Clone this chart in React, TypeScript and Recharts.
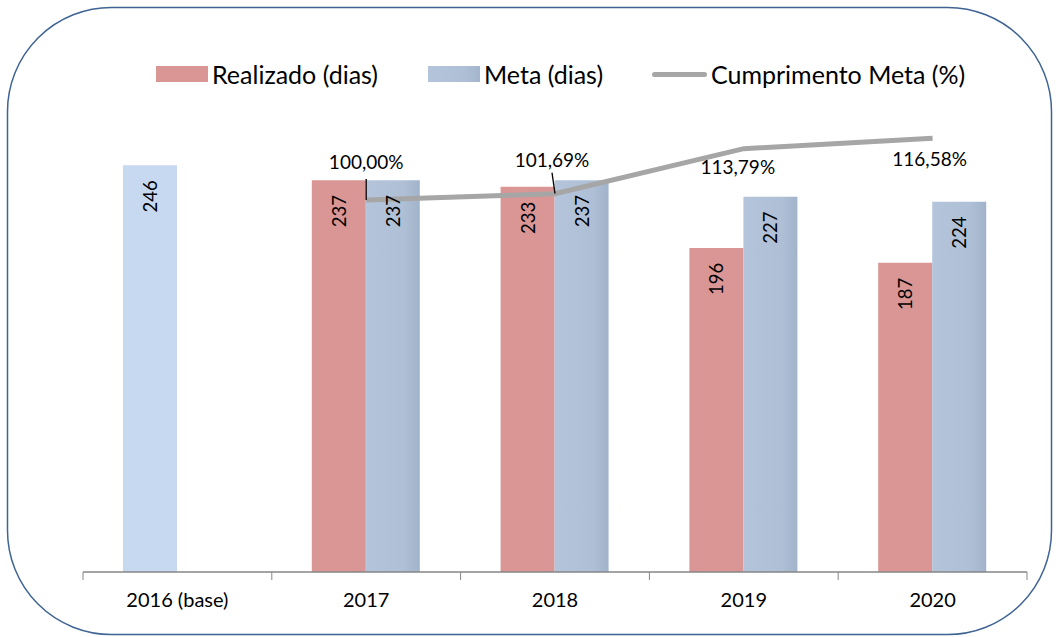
import { ComposedChart, Bar, Line, XAxis, YAxis, Legend, Cell, LabelList } from 'recharts';

const categories = ['2016 (base)', '2017', '2018', '2019', '2020'];
const realizado = [246, 237, 233, 196, 187];
const meta = [null, 237, 237, 227, 224];
const cumprimento = [null, 100.0, 101.69, 113.79, 116.58];

const data = categories.map((ano, i) => ({
  ano,
  realizado: realizado[i],
  meta: meta[i],
  cumprimento: cumprimento[i],
}));

const FONT = 'Lato, "Open Sans", sans-serif';
const RED = '#d99694';
const BASE_BLUE = '#c6d9f1';
const LINE_GRAY = '#a6a6a6';

// where each % label sits relative to its point (Excel placed them by hand)
const pctLabelPos = [
  null,
  { dx: 0, dy: -38, leader: true },
  { dx: -3, dy: -34, leader: true },
  { dx: -6, dy: 18, leader: false },
  { dx: -3, dy: 20, leader: false },
];

const BarValue = (props: any) => {
  const { x, y, width, value } = props;
  if (value == null) return null;
  const cx = x + width / 2;
  const cy = y + 31;
  return (
    <text
      x={cx}
      y={cy}
      transform={`rotate(-90 ${cx} ${cy})`}
      textAnchor="middle"
      dominantBaseline="central"
      fontFamily={FONT}
      fontSize={18.5}
      fill="#000"
    >
      {value}
    </text>
  );
};

const PctLabel = (props: any) => {
  const { x, y, value, index } = props;
  const pos = pctLabelPos[index];
  if (value == null || !pos) return null;
  const txt = value.toFixed(2).replace('.', ',') + '%';
  return (
    <g>
      {pos.leader && (
        <line x1={x + pos.dx} y1={y - 21} x2={x} y2={y} stroke="#000" strokeWidth={1.3} />
      )}
      <text
        x={x + pos.dx}
        y={y + pos.dy}
        textAnchor="middle"
        dominantBaseline="central"
        fontFamily={FONT}
        fontSize={19}
        fill="#000"
      >
        {txt}
      </text>
    </g>
  );
};

const AxisTick = (props: any) => {
  const { x, y, payload, index, visibleTicksCount } = props;
  const half = payload.offset > 0 ? payload.offset : 94.4;
  const last = index === visibleTicksCount - 1;
  return (
    <g>
      <line x1={x - half} y1={y - 8} x2={x - half} y2={y} stroke="#868686" />
      {last && <line x1={x + half} y1={y - 8} x2={x + half} y2={y} stroke="#868686" />}
      <text
        x={x}
        y={y + 19}
        textAnchor="middle"
        dominantBaseline="central"
        fontFamily={FONT}
        fontSize={20}
        fill="#000"
      >
        {payload.value}
      </text>
    </g>
  );
};

const legendItems = [
  { label: 'Realizado (dias)', left: 156, kind: 'red' },
  { label: 'Meta (dias)', left: 428, kind: 'meta' },
  { label: 'Cumprimento Meta (%)', left: 652, kind: 'line' },
];

const LegendContent = () => (
  <div style={{ position: 'relative', width: 1057, height: 30, fontFamily: FONT, fontSize: 25 }}>
    {legendItems.map((it) => (
      <div
        key={it.label}
        style={{ position: 'absolute', left: it.left, top: 0, display: 'flex', alignItems: 'center', height: 30 }}
      >
        {it.kind === 'line' ? (
          <div style={{ width: 55, height: 5, borderRadius: 3, background: LINE_GRAY }} />
        ) : (
          <div
            style={{
              width: 52,
              height: 16,
              background: it.kind === 'red' ? RED : 'linear-gradient(to right, #b4c5db 0%, #afc0d6 70%, #a3b5cc 100%)',
            }}
          />
        )}
        <span style={{ marginLeft: 4, color: '#000', whiteSpace: 'nowrap' }}>{it.label}</span>
      </div>
    ))}
  </div>
);

export default function App() {
  return (
    <div style={{ position: 'absolute', left: 0, top: 0, width: 1057, height: 637, background: '#fff' }}>
      <svg width={1057} height={637} style={{ position: 'absolute', left: 0, top: 0 }}>
        <rect x={7.5} y={7.5} width={1044} height={627} rx={104} ry={104} fill="#fff" stroke="#3f6494" strokeWidth={1.5} />
      </svg>
      <div style={{ position: 'absolute', left: 0, top: 0 }}>
        <ComposedChart
          width={1057}
          height={637}
          data={data}
          margin={{ top: 76, right: 30, left: 83, bottom: 25 }}
          barCategoryGap={40}
          barGap={0}
        >
          <defs>
            <linearGradient id="metaFill" x1="0" y1="0" x2="1" y2="0">
              <stop offset="0%" stopColor="#b4c5db" />
              <stop offset="70%" stopColor="#afc0d6" />
              <stop offset="100%" stopColor="#a1b3ca" />
            </linearGradient>
          </defs>
          <XAxis
            dataKey="ano"
            height={40}
            axisLine={{ stroke: '#868686', strokeWidth: 1.3 }}
            tickLine={false}
            tick={<AxisTick />}
            interval={0}
          />
          <YAxis yAxisId="dias" domain={[0, 300]} hide />
          <YAxis yAxisId="pct" orientation="right" domain={[0, 133.33]} hide />
          <Legend
            layout="horizontal"
            verticalAlign="middle"
            align="center"
            wrapperStyle={{ top: 59, left: 0, width: 1057 }}
            content={<LegendContent />}
          />
          <Bar yAxisId="dias" dataKey="realizado" fill={RED} barSize={54} isAnimationActive={false}>
            {data.map((d, i) => (
              <Cell key={d.ano} fill={i === 0 ? BASE_BLUE : RED} />
            ))}
            <LabelList dataKey="realizado" content={<BarValue />} />
          </Bar>
          <Bar yAxisId="dias" dataKey="meta" fill="url(#metaFill)" barSize={54} isAnimationActive={false}>
            <LabelList dataKey="meta" content={<BarValue />} />
          </Bar>
          <Line
            yAxisId="pct"
            dataKey="cumprimento"
            stroke={LINE_GRAY}
            strokeWidth={5}
            dot={false}
            activeDot={false}
            isAnimationActive={false}
          >
            <LabelList dataKey="cumprimento" content={<PctLabel />} />
          </Line>
        </ComposedChart>
      </div>
    </div>
  );
}
